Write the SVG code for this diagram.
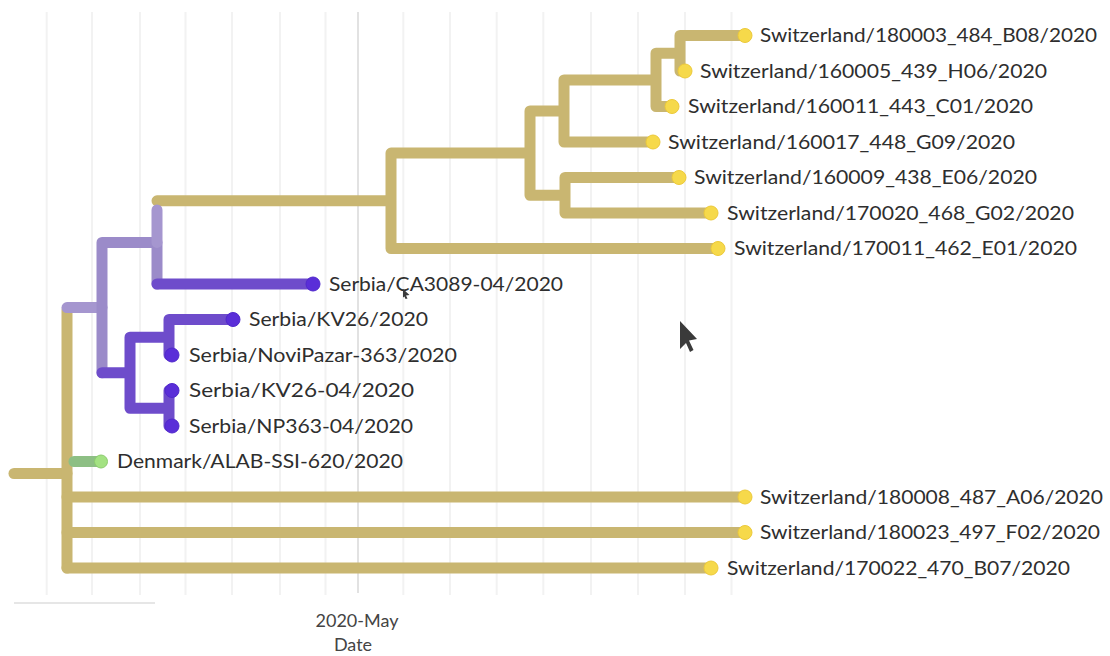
<svg xmlns="http://www.w3.org/2000/svg" width="1110" height="656" viewBox="0 0 1110 656">
<style>
.grid{stroke:#f2f2f2;stroke-width:2}
.gridm{stroke:#e2e2e2;stroke-width:2}
.br{fill:none;stroke-linecap:round;stroke-width:11}
.gold{stroke:#c9b671}
.lav{stroke:#9b8bc9}
.lav2{stroke:#a596cf}
.pur{stroke:#6e4ccb}
.grn{stroke:#8dbf84}
.tipY{fill:#f6d94a;stroke:#ecc93a;stroke-width:1}
.tipP{fill:#5a2ed8;stroke:#5028cc;stroke-width:1}
.tipG{fill:#a3e282;stroke:#8ccc6e;stroke-width:1}
.lbl{font-family:Lato,"Noto Sans",sans-serif;font-size:18.5px;fill:#2e2e2e}
.ax{font-family:Lato,"Noto Sans",sans-serif;font-size:18px;fill:#444;text-anchor:middle}
</style>
<rect width="1110" height="656" fill="#ffffff"/>
<g id="grid">
<line class="grid" x1="46.7" y1="12" x2="46.7" y2="595"/>
<line class="grid" x1="92" y1="12" x2="92" y2="595"/>
<line class="grid" x1="140" y1="12" x2="140" y2="595"/>
<line class="grid" x1="185.5" y1="12" x2="185.5" y2="595"/>
<line class="grid" x1="232" y1="12" x2="232" y2="595"/>
<line class="grid" x1="280" y1="12" x2="280" y2="595"/>
<line class="grid" x1="325.5" y1="12" x2="325.5" y2="595"/>
<line class="gridm" x1="358" y1="12" x2="358" y2="593"/>
<line class="grid" x1="403.3" y1="12" x2="403.3" y2="595"/>
<line class="grid" x1="450" y1="12" x2="450" y2="595"/>
<line class="grid" x1="496.7" y1="12" x2="496.7" y2="595"/>
<line class="grid" x1="543.3" y1="12" x2="543.3" y2="595"/>
<line class="grid" x1="591" y1="12" x2="591" y2="595"/>
<line class="grid" x1="638" y1="12" x2="638" y2="595"/>
<line class="grid" x1="685" y1="12" x2="685" y2="595"/>
<line class="grid" x1="731.5" y1="12" x2="731.5" y2="595"/>
<line stroke="#e6e6e6" stroke-width="2" x1="14" y1="603" x2="155" y2="603"/>
</g>
<g id="axis">
<text class="ax" x="357" y="627">2020-May</text>
<text class="ax" x="353" y="651">Date</text>
</g>
<g id="connectors">
<path class="br gold" stroke-width="15" stroke-linecap="butt" d="M14 473.5H67"/>
<path class="br gold" stroke-width="13" d="M67 310V568"/>
<path class="br gold" d="M67 497H745M67 532.5H745M67 568H711"/>
<path class="br grn" stroke-width="9" d="M74 461.5H101"/>
<path class="br gold" d="M157 200.8H391M391 153.1V248.5M391 248.5H718M391 153.1H530M530 110.9V195.25M530 110.9H564M530 195.25H565M564 79.9V142M564 142H653M564 79.9H656M656 53.25V106.5M656 106.5H672M656 53.25H680M680 35.5V71M680 35.5H745M680 71H685M565 177.5V213M565 177.5H679M565 213H711"/>
<path class="br lav2" d="M67 307.6H102"/>
<path class="br lav" d="M102 242.4V372.75M102 242.4H157M157 242.4V284"/>
<path class="br lav2" d="M157 210V242.4"/>
<path class="br pur" d="M157 284H313M102 372.75H130M130 337.25V408.25M130 337.25H169M130 408.25H169M169 319.5V355M169 319.5H233M169 355H172M169 390.5V426M169 390.5H172M169 426H172"/>
</g>
<g id="tip-ch-180003"><circle class="tipY" cx="745" cy="35.5" r="7"/><text class="lbl" x="760" y="42" textLength="337" lengthAdjust="spacingAndGlyphs">Switzerland/180003_484_B08/2020</text></g>
<g id="tip-ch-160005"><circle class="tipY" cx="685" cy="71" r="7"/><text class="lbl" x="700" y="77.5" textLength="347" lengthAdjust="spacingAndGlyphs">Switzerland/160005_439_H06/2020</text></g>
<g id="tip-ch-160011"><circle class="tipY" cx="672" cy="106.5" r="7"/><text class="lbl" x="688" y="113" textLength="345" lengthAdjust="spacingAndGlyphs">Switzerland/160011_443_C01/2020</text></g>
<g id="tip-ch-160017"><circle class="tipY" cx="653" cy="142" r="7"/><text class="lbl" x="668" y="148.5" textLength="347" lengthAdjust="spacingAndGlyphs">Switzerland/160017_448_G09/2020</text></g>
<g id="tip-ch-160009"><circle class="tipY" cx="679" cy="177.5" r="7"/><text class="lbl" x="694" y="184" textLength="343" lengthAdjust="spacingAndGlyphs">Switzerland/160009_438_E06/2020</text></g>
<g id="tip-ch-170020"><circle class="tipY" cx="711" cy="213" r="7"/><text class="lbl" x="727" y="219.5" textLength="347" lengthAdjust="spacingAndGlyphs">Switzerland/170020_468_G02/2020</text></g>
<g id="tip-ch-170011"><circle class="tipY" cx="718" cy="248.5" r="7"/><text class="lbl" x="734" y="255" textLength="343" lengthAdjust="spacingAndGlyphs">Switzerland/170011_462_E01/2020</text></g>
<g id="tip-rs-ca3089"><circle class="tipP" cx="313" cy="284" r="7"/><text class="lbl" x="329" y="290.5" textLength="234" lengthAdjust="spacingAndGlyphs">Serbia/CA3089-04/2020</text></g>
<g id="tip-rs-kv26"><circle class="tipP" cx="233" cy="319.5" r="7"/><text class="lbl" x="249" y="326" textLength="179" lengthAdjust="spacingAndGlyphs">Serbia/KV26/2020</text></g>
<g id="tip-rs-novipazar"><circle class="tipP" cx="172" cy="355" r="7"/><text class="lbl" x="189" y="361.5" textLength="268" lengthAdjust="spacingAndGlyphs">Serbia/NoviPazar-363/2020</text></g>
<g id="tip-rs-kv26-04"><circle class="tipP" cx="172" cy="390.5" r="7"/><text class="lbl" x="189" y="397" textLength="225" lengthAdjust="spacingAndGlyphs">Serbia/KV26-04/2020</text></g>
<g id="tip-rs-np363"><circle class="tipP" cx="172" cy="426" r="7"/><text class="lbl" x="189" y="432.5" textLength="224" lengthAdjust="spacingAndGlyphs">Serbia/NP363-04/2020</text></g>
<g id="tip-dk-alab"><circle class="tipG" cx="101" cy="461.5" r="6.5"/><text class="lbl" x="117" y="468" textLength="286" lengthAdjust="spacingAndGlyphs">Denmark/ALAB-SSI-620/2020</text></g>
<g id="tip-ch-180008"><circle class="tipY" cx="745" cy="497" r="7"/><text class="lbl" x="760" y="503.5" textLength="343" lengthAdjust="spacingAndGlyphs">Switzerland/180008_487_A06/2020</text></g>
<g id="tip-ch-180023"><circle class="tipY" cx="745" cy="532.5" r="7"/><text class="lbl" x="760" y="539" textLength="340" lengthAdjust="spacingAndGlyphs">Switzerland/180023_497_F02/2020</text></g>
<g id="tip-ch-170022"><circle class="tipY" cx="711" cy="568" r="7"/><text class="lbl" x="727" y="574.5" textLength="343" lengthAdjust="spacingAndGlyphs">Switzerland/170022_470_B07/2020</text></g>
<g id="cursors" fill="#3a3a3a">
<polygon points="680,321 697,339 689,340.5 693.5,350 690,352 686,343 680,349"/>
<polygon points="403,289 409.5,295 406,295.5 407.5,298.5 405.5,299 404.5,296.5 403,297.5"/>
</g>
</svg>
